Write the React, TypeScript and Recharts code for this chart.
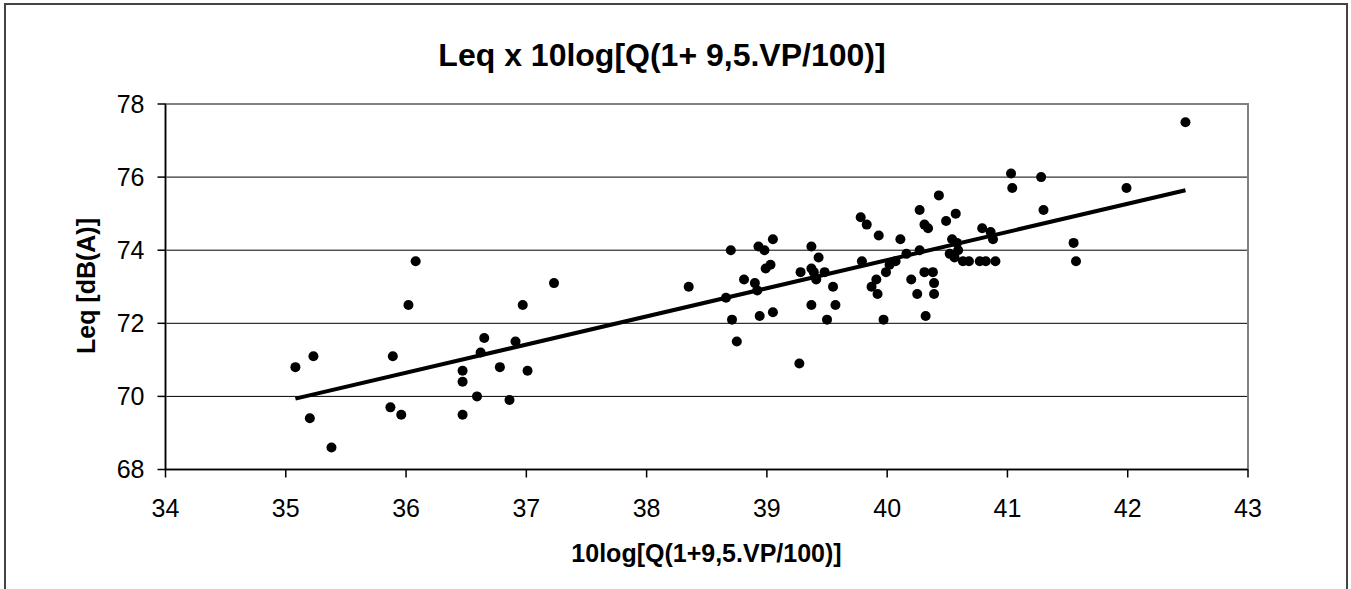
import {
  ScatterChart,
  Scatter,
  XAxis,
  YAxis,
  CartesianGrid,
  ReferenceArea,
  ReferenceLine,
} from 'recharts';

// values
const xValues = [
  35.08, 35.23, 35.2, 35.38, 35.89, 35.87, 35.96, 36.02, 36.08, 36.47,
  36.47, 36.47, 36.59, 36.62, 36.65, 36.78, 36.86, 36.91, 36.97, 37.01,
  37.23, 38.35, 38.7, 38.66, 38.71, 38.75, 38.81, 38.9, 38.92, 38.94,
  38.93, 38.98, 38.99, 39.03, 39.05, 39.05, 39.27, 39.28, 39.37, 39.37,
  39.39, 39.41, 39.37, 39.43, 39.48, 39.5, 39.55, 39.57, 39.78, 39.83,
  39.79, 39.93, 39.87, 39.91, 39.92, 39.97, 39.99, 40.02, 40.07, 40.11,
  40.16, 40.2, 40.25, 40.27, 40.27, 40.31, 40.34, 40.32, 40.31, 40.38,
  40.39, 40.39, 40.43, 40.49, 40.57, 40.54, 40.52, 40.56, 40.58, 40.59,
  40.63, 40.68, 40.79, 40.77, 40.82, 40.86, 40.88, 40.9, 41.03, 41.04,
  41.28, 41.3, 41.55, 41.57, 41.99, 42.48,
];
const yValues = [
  70.8, 71.1, 69.4, 68.6, 71.1, 69.7, 69.5, 72.5, 73.7, 70.7,
  70.4, 69.5, 70.0, 71.2, 71.6, 70.8, 69.9, 71.5, 72.5, 70.7,
  73.1, 73.0, 74.0, 72.7, 72.1, 71.5, 73.2, 73.1, 72.9, 72.2,
  74.1, 74.0, 73.5, 73.6, 74.3, 72.3, 70.9, 73.4, 74.1, 73.5,
  73.4, 73.2, 72.5, 73.8, 73.4, 72.1, 73.0, 72.5, 74.9, 74.7,
  73.7, 74.4, 73.0, 73.2, 72.8, 72.1, 73.4, 73.6, 73.7, 74.3,
  73.9, 73.2, 72.8, 75.1, 74.0, 74.7, 74.6, 72.2, 73.4, 73.4,
  73.1, 72.8, 75.5, 74.8, 75.0, 74.3, 73.9, 73.8, 74.2, 74.0,
  73.7, 73.7, 74.6, 73.7, 73.7, 74.5, 74.3, 73.7, 76.1, 75.7,
  76.0, 75.1, 74.2, 73.7, 75.7, 77.5,
];

// trend line end points
const trendX = [35.08, 42.48];
const trendY = [69.94, 75.64];

const xTicks = [34, 35, 36, 37, 38, 39, 40, 41, 42, 43];
const yTicks = [68, 70, 72, 74, 76, 78];

const title = 'Leq x 10log[Q(1+ 9,5.VP/100)]';
const xTitle = '10log[Q(1+9,5.VP/100)]';
const yTitle = 'Leq [dB(A)]';

const font = '"Liberation Sans", Arial, sans-serif';

const points = xValues.map((x, i) => ({ x, y: yValues[i] }));

const Dot = (props: any) => <circle cx={props.cx} cy={props.cy} r={5} fill="#000" />;

export default function App() {
  return (
    <div
      style={{
        position: 'fixed',
        left: 0,
        top: 0,
        width: 1351,
        height: 589,
        overflow: 'hidden',
        background: '#fff',
        fontFamily: font,
      }}
    >
      <div
        style={{
          position: 'absolute',
          left: 4,
          top: 3,
          width: 1344,
          height: 620,
          boxSizing: 'border-box',
          border: '2px solid #444',
        }}
      />
      <div style={{ position: 'absolute', left: 0, top: 0 }}>
        <ScatterChart
          width={1351}
          height={589}
          margin={{ top: 104, right: 103, bottom: 59.5, left: 105.5 }}
        >
          <ReferenceArea
            x1={34}
            x2={43}
            y1={68}
            y2={78}
            fill="none"
            stroke="#808080"
            strokeWidth={2}
          />
          <CartesianGrid vertical={false} stroke="#000" strokeWidth={1} />
          <XAxis
            type="number"
            dataKey="x"
            domain={[34, 43]}
            ticks={xTicks}
            allowDataOverflow
            height={60}
            tickSize={8}
            tickMargin={22}
            stroke="#000"
            strokeWidth={1.5}
            tick={{ fill: '#000', fontSize: 25, fontFamily: font }}
          />
          <YAxis
            type="number"
            dataKey="y"
            domain={[68, 78]}
            ticks={yTicks}
            allowDataOverflow
            width={60}
            tickSize={8}
            tickMargin={13}
            stroke="#000"
            strokeWidth={1.5}
            tick={{ fill: '#000', fontSize: 25, fontFamily: font }}
          />
          <ReferenceLine
            segment={[
              { x: trendX[0], y: trendY[0] },
              { x: trendX[1], y: trendY[1] },
            ]}
            stroke="#000"
            strokeWidth={4}
          />
          <Scatter data={points} shape={Dot} isAnimationActive={false} />
        </ScatterChart>
      </div>
      <svg
        width={1351}
        height={589}
        style={{ position: 'absolute', left: 0, top: 0, pointerEvents: 'none' }}
      >
        <text x={662} y={66} textAnchor="middle" fontSize={32} fontWeight="bold" fontFamily={font} fill="#000">
          {title}
        </text>
        <text x={706.5} y={562} textAnchor="middle" fontSize={25} fontWeight="bold" fontFamily={font} fill="#000">
          {xTitle}
        </text>
        <text
          x={95}
          y={286}
          textAnchor="middle"
          fontSize={25}
          fontWeight="bold"
          fontFamily={font}
          fill="#000"
          transform="rotate(-90, 95, 286)"
        >
          {yTitle}
        </text>
      </svg>
    </div>
  );
}
